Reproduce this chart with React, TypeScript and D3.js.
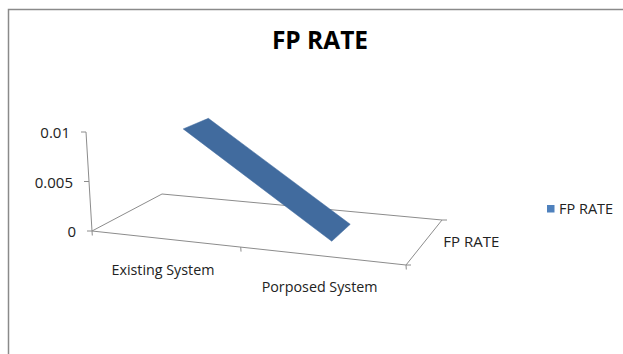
import React from "react";
import * as d3 from "d3";

// Chart data
const categories: string[] = ["Existing System", "Porposed System"];
const fpRate: number[] = [0.01, 0];
const yTicks: number[] = [0, 0.005, 0.01];
const yTickLabels: string[] = ["0", "0.005", "0.01"];
const seriesName = "FP RATE";
const chartTitle = "FP RATE";

// Floor corners of the 3D plot area (screen space) and top of the value axis
const FL: [number, number] = [92, 231];
const FR: [number, number] = [406, 265];
const BR: [number, number] = [442, 220];
const BL: [number, number] = [162, 194];
const AXIS_TOP: [number, number] = [86, 132];

// Projective mapping of the unit square (u = category, w = depth) onto the floor
function squareToQuad() {
  const [x0, y0] = FL, [x1, y1] = FR, [x2, y2] = BR, [x3, y3] = BL;
  const dx1 = x1 - x2, dx2 = x3 - x2, dx3 = x0 - x1 + x2 - x3;
  const dy1 = y1 - y2, dy2 = y3 - y2, dy3 = y0 - y1 + y2 - y3;
  const den = dx1 * dy2 - dx2 * dy1;
  const g = (dx3 * dy2 - dx2 * dy3) / den;
  const h = (dx1 * dy3 - dx3 * dy1) / den;
  return {
    a: x1 - x0 + g * x1,
    b: x3 - x0 + h * x3,
    c: x0,
    d: y1 - y0 + g * y1,
    e: y3 - y0 + h * y3,
    f: y0,
    g,
    h,
  };
}
const H = squareToQuad();
const VX = AXIS_TOP[0] - FL[0];
const VY = AXIS_TOP[1] - FL[1];

// u: category fraction, v: value fraction, w: depth fraction
function project(u: number, v: number, w: number): [number, number] {
  const den = H.g * u + H.h * w + 1;
  return [
    (H.a * u + VX * v + H.b * w + H.c) / den,
    (H.d * u + VY * v + H.e * w + H.f) / den,
  ];
}

const yScale = d3.scaleLinear().domain([0, 0.01]).range([0, 1]);
const band = d3.scaleBand<string>().domain(categories).range([0, 1]);
const pointScale = d3.scalePoint<string>().domain(categories).range([0, 1]).padding(0.56);
const RIBBON_W0 = 0.3;
const RIBBON_W1 = 0.7;

const FONT = "'Open Sans', 'Liberation Sans', sans-serif";
const AXIS_COLOR = "#8c8c8c";

export default function App() {
  const line = d3.line<[number, number]>().curve(d3.curveLinearClosed);

  // ribbon segments between consecutive categories
  const ribbons: string[] = [];
  for (let i = 0; i < categories.length - 1; i++) {
    const u0 = pointScale(categories[i])!;
    const u1 = pointScale(categories[i + 1])!;
    const v0 = yScale(fpRate[i]);
    const v1 = yScale(fpRate[i + 1]);
    ribbons.push(
      line([
        project(u0, v0, RIBBON_W0),
        project(u1, v1, RIBBON_W0),
        project(u1, v1, RIBBON_W1),
        project(u0, v0, RIBBON_W1),
      ])!
    );
  }

  const floor = line([FL, FR, BR, BL])!;
  const axisBottom = project(0, 0, 0);
  const axisTop = project(0, 1, 0);

  const catTicks = [0, ...categories.map((c) => band(c)! + band.bandwidth())];
  const depthMid = project(1, 0, 0.5);

  return (
    <svg
      width={623}
      height={354}
      style={{ position: "absolute", left: 0, top: 0, background: "#fff" }}
      fontFamily={FONT}
    >
      <rect x={8.5} y={9.5} width={640} height={360} fill="#fff" stroke="#8a8a8a" strokeWidth={1.5} />
      <text x={320} y={48.5} textAnchor="middle" fontSize={24.5} fontWeight="bold" fill="#000">
        {chartTitle}
      </text>

      {/* floor */}
      <path d={floor} fill="none" stroke={AXIS_COLOR} strokeWidth={1} />

      {/* value axis */}
      <line x1={axisBottom[0]} y1={axisBottom[1]} x2={axisTop[0]} y2={axisTop[1]} stroke={AXIS_COLOR} strokeWidth={1} />
      {yTicks.map((t, i) => {
        const [x, y] = project(0, yScale(t), 0);
        return (
          <g key={"y" + i}>
            <line x1={x - 5} y1={y} x2={x} y2={y} stroke={AXIS_COLOR} strokeWidth={1} />
            <text x={x - 16} y={y + 6} textAnchor="end" fontSize={15} fill="#222">
              {yTickLabels[i]}
            </text>
          </g>
        );
      })}

      {/* category axis ticks and labels */}
      {catTicks.map((u, i) => {
        const [x, y] = project(u, 0, 0);
        return <line key={"c" + i} x1={x} y1={y} x2={x + 0.3} y2={y + 4.5} stroke={AXIS_COLOR} strokeWidth={1} />;
      })}
      {categories.map((c) => {
        const [x, y] = project(band(c)! + band.bandwidth() / 2, 0, 0);
        return (
          <text key={c} x={x - 1.5} y={y + 36} textAnchor="middle" fontSize={14.3} fill="#222">
            {c}
          </text>
        );
      })}

      {/* depth axis ticks and label */}
      {[0, 1].map((w) => {
        const [x, y] = project(1, 0, w);
        return <line key={"d" + w} x1={x} y1={y} x2={x + 5} y2={y} stroke={AXIS_COLOR} strokeWidth={1} />;
      })}
      <text x={depthMid[0] + 18} y={depthMid[1] + 6} fontSize={15} fill="#222">
        {seriesName}
      </text>

      {/* series ribbon */}
      {ribbons.map((d, i) => (
        <path key={"r" + i} d={d} fill="#416b9e" stroke="#416b9e" strokeWidth={0.5} />
      ))}

      {/* legend */}
      <rect x={547} y={205} width={7.5} height={7.5} fill="#4f81bd" />
      <text x={559} y={213.7} fontSize={14.5} fill="#222">
        {seriesName}
      </text>
    </svg>
  );
}
